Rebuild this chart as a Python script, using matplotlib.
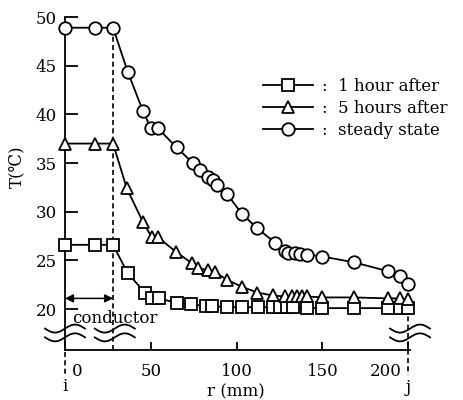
import numpy as np
import matplotlib
matplotlib.use('Agg')
import matplotlib.pyplot as plt
from matplotlib.transforms import ScaledTranslation

plt.rcParams['font.family'] = ['DejaVu Serif', 'DejaVu Sans', 'Noto Sans CJK JP']
plt.rcParams['font.size'] = 12

# ---------------------------------------------------------------------------
# data (r in mm, T in deg C)
# ---------------------------------------------------------------------------
r_steady = [0, 17.5, 28, 36.5, 45.5, 50, 54, 65, 74.5, 78.5, 83.5, 86.5, 88.5,
            94.5, 103, 112, 122.5, 128, 130, 134, 137, 141, 150, 168.5, 188,
            195, 200]
T_steady = [48.9, 48.9, 48.9, 44.4, 40.3, 38.6, 38.6, 36.6, 35.0, 34.3, 33.6,
            33.3, 32.7, 31.8, 29.8, 28.3, 26.8, 26.0, 25.8, 25.8, 25.7, 25.6,
            25.4, 24.8, 23.9, 23.4, 22.6]

r_5h = [0, 17.5, 28, 36, 45.5, 50.5, 54, 64.5, 74, 77.5, 83.5, 87.5, 94.5,
        103, 112, 121, 128, 132, 135, 138, 141, 150, 168.5, 188, 195, 200]
T_5h = [37.0, 37.0, 37.0, 32.4, 28.9, 27.4, 27.4, 25.9, 24.7, 24.2, 24.0,
        23.8, 23.0, 22.3, 21.7, 21.4, 21.3, 21.3, 21.3, 21.3, 21.3, 21.2,
        21.2, 21.1, 21.1, 21.0]

r_1h = [0, 17.5, 28, 36.5, 46.5, 50.5, 55, 65.5, 73.5, 82, 85.5, 94.5, 103,
        112.5, 121, 125, 129.5, 133, 141, 150, 168.5, 188, 195, 200]
T_1h = [26.6, 26.6, 26.6, 23.7, 21.7, 21.1, 21.1, 20.6, 20.5, 20.3, 20.3,
        20.2, 20.2, 20.2, 20.2, 20.2, 20.2, 20.2, 20.1, 20.1, 20.1, 20.1,
        20.1, 20.1]

labels = [':  1 hour after', ':  5 hours after', ':  steady state']
x_ticks = [0, 50, 100, 150, 200]
y_ticks = [20, 25, 30, 35, 40, 45, 50]
R_COND = 28      # conductor edge
R_J = 200        # point j

W, H = 463, 400
fig = plt.figure(figsize=(W / 100, H / 100), dpi=100)
ax = fig.add_axes([65 / W, 50 / H, 345 / W, 333 / H])
ax.set_xlim(0, 201)
ax.set_ylim(15.8, 50)

LW = 1.3
style = dict(color='black', lw=LW, ms=9, mfc='white', mec='black', mew=1.3,
             clip_on=False)
handles = []
for r, T, mk, lab in [(r_1h, T_1h, 's', labels[0]),
                      (r_5h, T_5h, '^', labels[1]),
                      (r_steady, T_steady, 'o', labels[2])]:
    h, = ax.plot(r, T, marker=mk, label=lab, zorder=3, **style)
    handles.append(h)

# spines / ticks
for s in ['top', 'right']:
    ax.spines[s].set_visible(False)
for s in ['left', 'bottom']:
    ax.spines[s].set_linewidth(LW)
ax.set_xticks(x_ticks)
ax.set_yticks(y_ticks)
ax.tick_params(axis='y', direction='in', length=9, width=LW, pad=6)
ax.tick_params(axis='x', direction='in', length=6, width=LW, pad=9)
for lab in ax.get_xticklabels():
    if lab.get_text() == '0':
        lab.set_transform(lab.get_transform() + ScaledTranslation(12 / 100, 0, fig.dpi_scale_trans))
    elif lab.get_text() == '200':
        lab.set_transform(lab.get_transform() + ScaledTranslation(-23 / 100, 0, fig.dpi_scale_trans))

ax.set_xlabel('r (mm)')
ax.xaxis.set_label_coords((236 - 65) / 345, -33 / 333)
ax.set_ylabel('T(℃)')
ax.yaxis.set_label_coords(-40 / 345, (350 - 167) / 333)

# conductor boundary and arrow
ax.plot([R_COND, R_COND], [15.8, T_steady[2]], ls=(0, (3, 2)), color='black', lw=1.2, zorder=2)
ax.annotate('', xy=(0, 21.1), xytext=(R_COND, 21.1),
            arrowprops=dict(arrowstyle='<|-|>', color='black', lw=1.1,
                            mutation_scale=12, shrinkA=0, shrinkB=0))
ax.text(4, 19.0, 'conductor', ha='left', va='center')

# dashed lines to points i and j below the axis
ax.plot([0, 0], [15.6, 13.0], ls=(0, (3, 2)), color='black', lw=1.2, clip_on=False)
ax.plot([R_J, R_J], [20.1, 13.2], ls=(0, (3, 2)), color='black', lw=1.2, clip_on=False, zorder=1)
ax.text(0, 12.1, 'i', ha='center', va='center')
ax.text(R_J, 12.0, 'j', ha='center', va='center')

# axis break marks
px_x, px_y = 345 / 201, 333 / 34.2
t = np.linspace(-1, 1, 60)
for xc in [0, R_COND + 1, R_J + 1]:
    xs = xc + t * 20 / px_x
    for yo in [18.0, 17.1]:
        ys = yo + 4 * np.sin(t * np.pi) / px_y
        ax.plot(xs, ys, color='black', lw=LW, clip_on=False, zorder=4)

ax.legend(handles=handles, loc='upper left', bbox_to_anchor=(255 / W, 1 - 70 / H),
          bbox_transform=fig.transFigure, frameon=False, borderpad=0,
          handlelength=3.0, handletextpad=0.5, labelspacing=0.3)

fig.savefig('out.png', dpi=100)
